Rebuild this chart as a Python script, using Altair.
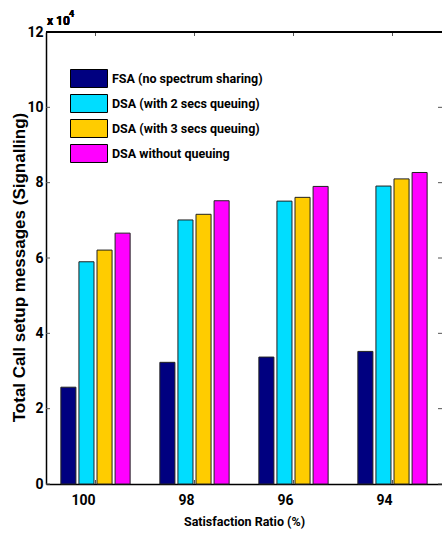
import altair as alt
import pandas as pd

# Satisfaction ratio groups along the x axis
ratios = ["100", "98", "96", "94"]

# Series names (legend order)
series = [
    "FSA (no spectrum sharing)",
    "DSA (with 2 secs queuing)",
    "DSA (with 3 secs queuing)",
    "DSA without queuing",
]
colors = ["#000080", "#00DDFF", "#FFCC00", "#FF00FF"]

# Total call setup messages per series
fsa = [25700, 32300, 33700, 35200]
dsa_2s = [59000, 70100, 75100, 79100]
dsa_3s = [62100, 71600, 76100, 81000]
dsa_noq = [66600, 75200, 79000, 82700]

# Y tick values
y_ticks = [0, 20000, 40000, 60000, 80000, 100000, 120000]

W, H = 396, 452
FONT = "Roboto"
TITLE_FONT = "Liberation Sans"

rows = []
for name, vals in zip(series, [fsa, dsa_2s, dsa_3s, dsa_noq]):
    for r, v in zip(ratios, vals):
        rows.append({"ratio": r, "series": name, "messages": v})
df = pd.DataFrame(rows)

x_scale = alt.Scale(domain=ratios, paddingInner=0.27, paddingOuter=0.135)
y_scale = alt.Scale(domain=[0, 120000], nice=False)

bars = alt.Chart(df).mark_bar(stroke="#222222", strokeWidth=1).encode(
    x=alt.X(
        "ratio:N",
        scale=x_scale,
        sort=ratios,
        axis=alt.Axis(
            title="Satisfaction Ratio (%)",
            labelAngle=0,
            labelFont=FONT,
            labelFontSize=14,
            labelFontWeight="bold",
            labelColor="black",
            labelPadding=16,
            ticks=False,
            domainColor="black",
            domainWidth=1.5,
            titleFont=FONT,
            titleFontSize=12.5,
            titleFontWeight="bold",
            titleColor="black",
            titleBaseline="alphabetic",
            titleY=41,
        ),
    ),
    xOffset=alt.XOffset(
        "series:N",
        sort=series,
        scale=alt.Scale(domain=series, paddingInner=0.167, paddingOuter=0.083),
    ),
    y=alt.Y(
        "messages:Q",
        scale=y_scale,
        axis=alt.Axis(
            title="Total Call setup messages (Signalling)",
            values=y_ticks,
            labelExpr="datum.value / 10000",
            labelFont=FONT,
            labelFontSize=14,
            labelFontWeight="bold",
            labelColor="black",
            labelPadding=3,
            ticks=False,
            grid=False,
            domainColor="black",
            domainWidth=1.5,
            titleFont=TITLE_FONT,
            titleFontSize=17,
            titleFontWeight="bold",
            titleColor="black",
            titleX=-27,
            titleY=235,
            titleBaseline="middle",
            titleAlign="center",
        ),
    ),
    color=alt.Color(
        "series:N",
        sort=series,
        scale=alt.Scale(domain=series, range=colors),
        legend=alt.Legend(
            title=None,
            orient="none",
            legendX=24,
            legendY=34,
            # wide rectangular swatch
            symbolType="M-1,-0.486H1V0.486H-1Z",
            symbolSize=1369,
            symbolStrokeColor="black",
            symbolStrokeWidth=1,
            symbolOpacity=1,
            labelFont=FONT,
            labelFontSize=12.5,
            labelFontWeight="bold",
            labelColor="black",
            labelOffset=4,
            labelLimit=400,
            clipHeight=25,
            rowPadding=0,
            padding=0,
        ),
    ),
)

tick_df = pd.DataFrame({"v": y_ticks})
cat_df = pd.DataFrame({"ratio": ratios})
tick_style = dict(color="#555555", strokeWidth=1)

# Inward-pointing ticks on every side of the frame
left_ticks = alt.Chart(tick_df).mark_rule(**tick_style).encode(
    y=alt.Y("v:Q", scale=y_scale), x=alt.value(0), x2=alt.value(4)
)
right_ticks = alt.Chart(tick_df).mark_rule(**tick_style).encode(
    y=alt.Y("v:Q", scale=y_scale), x=alt.value(W), x2=alt.value(W - 4)
)
top_ticks = alt.Chart(cat_df).mark_rule(**tick_style).encode(
    x=alt.X("ratio:N", scale=x_scale, sort=ratios), y=alt.value(0), y2=alt.value(4)
)
bottom_ticks = alt.Chart(cat_df).mark_rule(**tick_style).encode(
    x=alt.X("ratio:N", scale=x_scale, sort=ratios), y=alt.value(H), y2=alt.value(H - 4)
)

# Top edge of the frame
top_border = alt.Chart(cat_df).mark_rule(color="black", strokeWidth=1.5).encode(
    x=alt.value(0), x2=alt.value(W), y=alt.value(0)
)

# Axis exponent "x 10^4"
exp_base = alt.Chart(cat_df).mark_text(
    text="x 10", align="left", baseline="alphabetic",
    font=FONT, fontSize=12, fontWeight="bold", color="black",
).encode(x=alt.value(1), y=alt.value(-7))
exp_power = alt.Chart(cat_df).mark_text(
    text="4", align="left", baseline="alphabetic",
    font=FONT, fontSize=9, fontWeight="bold", color="black",
).encode(x=alt.value(23), y=alt.value(-15))

chart = (
    alt.layer(bottom_ticks, bars, left_ticks, right_ticks, top_ticks, top_border, exp_base, exp_power)
    .properties(
        width=W,
        height=H,
        autosize=alt.AutoSizeParams(type="none"),
        padding={"left": 46, "top": 32, "right": 0, "bottom": 49},
        background="white",
    )
    .configure_view(stroke=None)
)

chart.save("out.html", embed_options={"renderer": "svg", "actions": False})
